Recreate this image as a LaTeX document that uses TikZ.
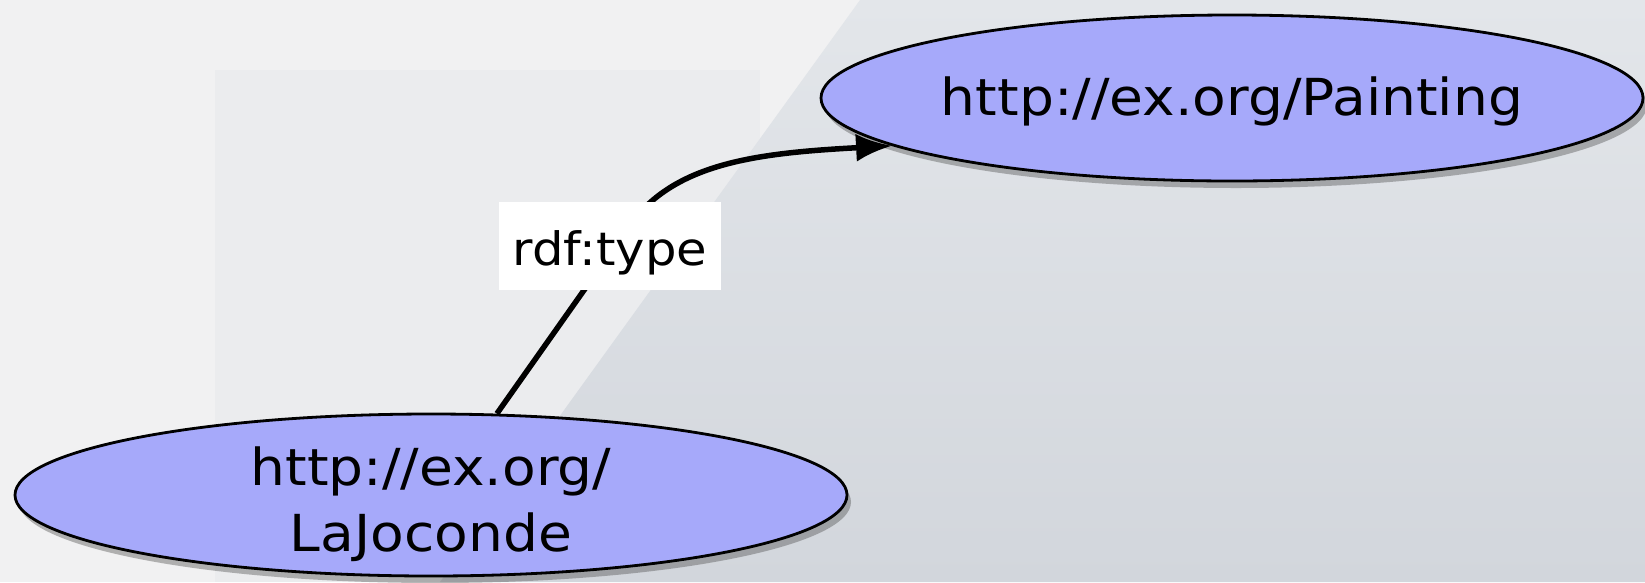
\documentclass[tikz,border=0pt]{standalone}
\usepackage{fontspec}
\setmainfont[FakeStretch=1.08]{DejaVu Sans}
\usetikzlibrary{shapes.geometric,shadows,arrows.meta}
\definecolor{nodefill}{RGB}{166,169,250}
\definecolor{bgbase}{RGB}{241,241,242}
\definecolor{bgpanel}{RGB}{235,236,238}
\definecolor{bldlight}{RGB}{227,230,234}
\definecolor{blddark}{RGB}{210,214,220}
\tikzset{
  resnode/.style={ellipse, draw=black, line width=2.8pt, fill=nodefill,
    inner sep=0pt, align=center, font=\fontsize{51}{66}\selectfont,
    drop shadow={shadow xshift=4pt, shadow yshift=-7pt, opacity=0.4, fill=black!70}},
  restext/.style={align=center, inner sep=0pt, font=\fontsize{51}{66}\selectfont},
  edgelabel/.style={fill=white, inner sep=0pt, font=\fontsize{46}{56}\selectfont},
  relarrow/.style={line width=5.5pt, -{Latex[length=36pt,width=28pt]}}
}
\begin{document}
\begin{tikzpicture}[x=1pt,y=-1pt]
\useasboundingbox (0,0) rectangle (1645,582);
\fill[bgbase] (0,0) rectangle (1645,582);
\fill[bgpanel] (215,70) rectangle (760,582);
\shade[top color=bldlight, bottom color=blddark] (440,582) -- (860,0) -- (1645,0) -- (1645,582) -- cycle;
\node[resnode, minimum width=822pt, minimum height=166pt,
  label={[restext, yshift=-3pt]center:http://ex.org/Painting}] (paint) at (1232,98) {};
\node[resnode, minimum width=832pt, minimum height=162pt,
  label={[restext, yshift=-9pt]center:http://ex.org/\\LaJoconde}] (jo) at (431,495) {};
\draw[relarrow] (jo.51) -- (630,225) .. controls (675,162) and (760,153) .. (paint.188);
\node[edgelabel, minimum width=222pt, minimum height=88pt] (lbl) at (610,246) {\rule{0pt}{48pt}rdf:type};
\end{tikzpicture}
\end{document}
